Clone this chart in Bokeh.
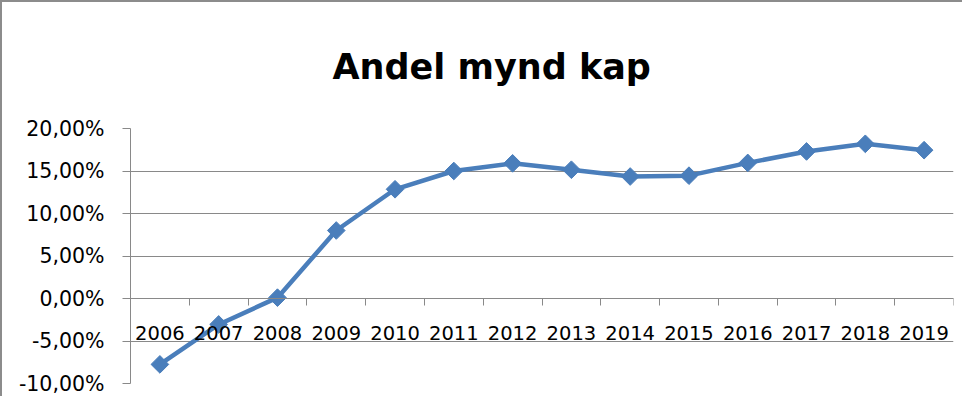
import numpy as np
from bokeh.plotting import figure
from bokeh.models import FixedTicker, LinearAxis, Range1d
from bokeh.embed import file_html
from bokeh.resources import INLINE

# ---- data ----
title_text = "Andel mynd kap"
years = ["2006", "2007", "2008", "2009", "2010", "2011", "2012",
         "2013", "2014", "2015", "2016", "2017", "2018", "2019"]
share_pct = [-7.75, -3.05, 0.1, 8.0, 12.85, 15.0, 15.9,
             15.15, 14.35, 14.45, 15.95, 17.3, 18.2, 17.45]
y_ticks = [-10, -5, 0, 5, 10, 15, 20]
y_tick_labels = ["-10,00%", "-5,00%", "0,00%", "5,00%", "10,00%", "15,00%", "20,00%"]

GRID = "#898989"
BLUE = "#4A7EBB"
FONT = "DejaVu Sans"

n = len(years)
xs = np.arange(n) + 0.5

p = figure(width=962, height=396, output_backend="svg", toolbar_location=None,
           x_range=Range1d(0, n), y_range=Range1d(y_ticks[0], y_ticks[-1]),
           x_axis_location=None,
           min_border_left=128, min_border_right=11, min_border_top=113,
           min_border_bottom=15)
p.outline_line_color = None
p.background_fill_color = "white"
p.border_fill_color = "white"
p.styles = {"border-top": "2px solid #8c8c8c", "border-left": "2px solid #8c8c8c"}

# title
p.title.text = title_text
p.title.text_font = FONT
p.title.text_font_style = "bold"
p.title.text_font_size = "35px"
p.title.text_color = "black"
p.title.text_line_height = 0.7
p.title.align = "left"
p.title.vertical_align = "bottom"
p.title.offset = 202
p.title.standoff = 84

# y axis
yax = p.yaxis[0]
yax.ticker = FixedTicker(ticks=y_ticks, minor_ticks=[])
yax.major_label_overrides = {t: l for t, l in zip(y_ticks, y_tick_labels)}
yax.major_label_text_font = FONT
yax.major_label_text_font_size = "20.5px"
yax.major_label_text_color = "black"
yax.major_label_standoff = 18
yax.major_tick_out = 8
yax.major_tick_in = 0
yax.minor_tick_out = 0
yax.axis_line_color = GRID
yax.major_tick_line_color = GRID
yax.axis_line_width = 1

p.ygrid.ticker = FixedTicker(ticks=y_ticks)
p.ygrid.grid_line_color = GRID
p.ygrid.grid_line_width = 1
p.xgrid.visible = False

# x axis placed at y = 0
xax = LinearAxis(fixed_location=0)
xax.ticker = FixedTicker(ticks=list(xs), minor_ticks=list(range(n + 1)))
xax.major_label_overrides = {float(x): y for x, y in zip(xs, years)}
xax.major_label_text_font = FONT
xax.major_label_text_font_size = "19.5px"
xax.major_label_text_color = "black"
xax.major_label_standoff = 20
xax.major_tick_out = 0
xax.major_tick_in = 0
xax.minor_tick_out = 7
xax.minor_tick_in = 0
xax.minor_tick_line_color = GRID
xax.axis_line_color = GRID
p.add_layout(xax, "below")

# series
p.line(xs, share_pct, line_color=BLUE, line_width=4.5, line_join="round")
p.scatter(xs, share_pct, marker="square", angle=np.pi / 4, size=12.5,
          fill_color=BLUE, line_color=BLUE)

open("out.html", "w").write(file_html(p, INLINE))
